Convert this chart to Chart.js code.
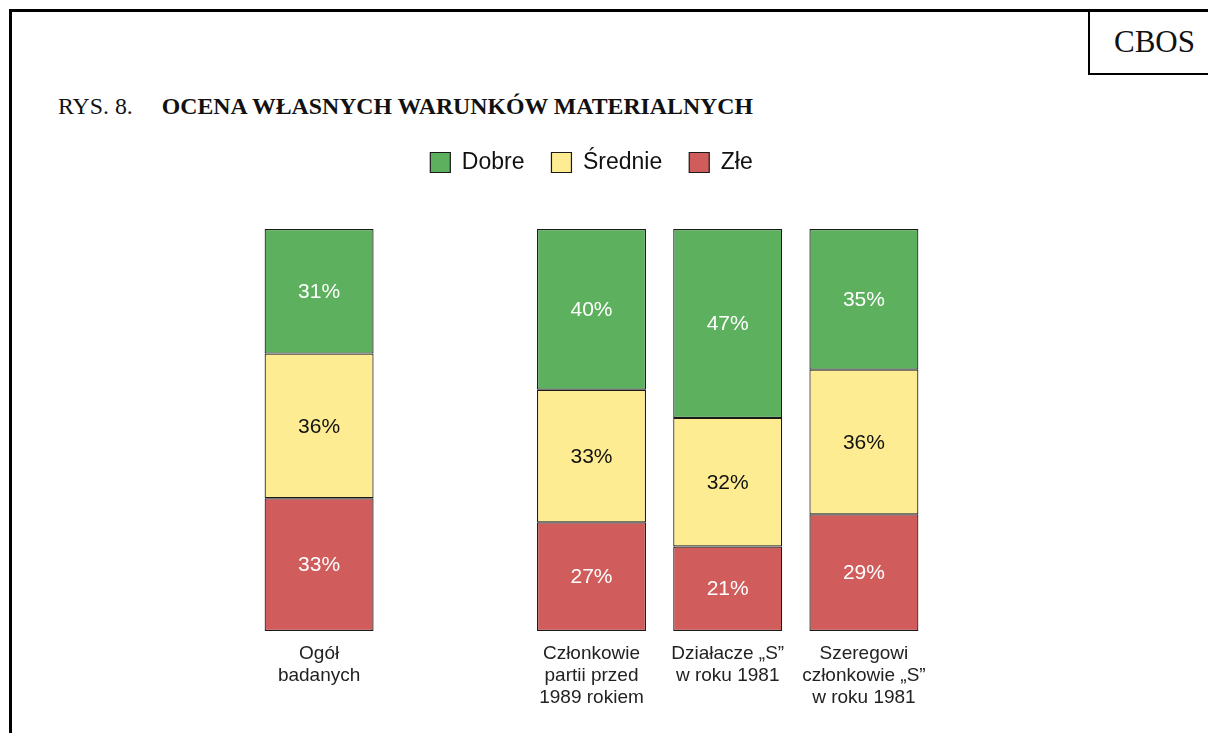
<!DOCTYPE html>
<html lang="pl">
<head>
<meta charset="utf-8">
<title>Ocena własnych warunków materialnych</title>
<script src="https://cdn.jsdelivr.net/npm/chart.js@4/dist/chart.umd.min.js"></script>
<style>
  html, body { margin: 0; padding: 0; background: #fff; }
  #page { position: relative; width: 1208px; height: 733px; overflow: hidden; }
  #frame { position: absolute; left: 9px; top: 9px; width: 1400px; height: 900px;
           border-left: 3px solid #000; border-top: 3px solid #000; }
  #cbos { position: absolute; left: 1088px; top: 9px; width: 160px; height: 66px;
          border: 2px solid #000; border-top-width: 3px; box-sizing: border-box;
          font: 31px "Liberation Serif", "Times New Roman", serif; color: #111;
          padding: 12px 0 0 24px; }
  #title { position: absolute; left: 58px; top: 93px; white-space: nowrap;
           font: 23.8px "Liberation Serif", "Times New Roman", serif; color: #111; }
  #title b { margin-left: 29px; }
  #chart { position: absolute; left: 0; top: 0; }
</style>
</head>
<body>
<div id="page">
  <div id="frame"></div>
  <div id="cbos">CBOS</div>
  <div id="title">RYS. 8.<b>OCENA WŁASNYCH WARUNKÓW MATERIALNYCH</b></div>
  <canvas id="chart" width="1208" height="733"></canvas>
</div>
<script>
// dane (w %)
const categories = [
  ["Ogół", "badanych"],
  "",
  ["Członkowie", "partii przed", "1989 rokiem"],
  ["Działacze „S”", "w roku 1981"],
  ["Szeregowi", "członkowie „S”", "w roku 1981"],
];
const seriesNames = ["Dobre", "Średnie", "Złe"];
const dobre = [31, null, 40, 47, 35];
const srednie = [36, null, 33, 32, 36];
const zle = [33, null, 27, 21, 29];

const COLORS = { green: "#5db15e", yellow: "#fdec92", red: "#d05c5b", edge: "#1a1a1a" };

// etykiety procentowe w środku segmentów
const valueLabels = {
  id: "valueLabels",
  afterDatasetsDraw(chart) {
    const ctx = chart.ctx;
    ctx.save();
    ctx.font = '21px "Liberation Sans", Arial, sans-serif';
    ctx.textAlign = "center";
    ctx.textBaseline = "middle";
    chart.data.datasets.forEach((ds, i) => {
      chart.getDatasetMeta(i).data.forEach((bar, j) => {
        const v = ds.data[j];
        if (v == null) return;
        const { x, y, base } = bar.getProps(["x", "y", "base"], true);
        ctx.fillStyle = ds.labelColor;
        ctx.fillText(v + "%", x, (y + base) / 2 + 1);
      });
    });
    ctx.restore();
  },
};

// legenda potrzebuje trochę więcej miejsca pod sobą
const legendSpace = {
  id: "legendSpace",
  beforeInit(chart) {
    const fit = chart.legend.fit;
    chart.legend.fit = function () {
      fit.bind(chart.legend)();
      this.height += 45;
    };
  },
};

const mk = (label, data, color, labelColor) => ({
  label, data,
  backgroundColor: color,
  borderColor: COLORS.edge,
  borderWidth: 1.2,
  borderSkipped: false,
  labelColor,
});

new Chart(document.getElementById("chart"), {
  type: "bar",
  data: {
    labels: categories,
    // kolejność stosu: od dołu Złe, Średnie, Dobre
    datasets: [
      mk(seriesNames[2], zle, COLORS.red, "#fff"),
      mk(seriesNames[1], srednie, COLORS.yellow, "#111"),
      mk(seriesNames[0], dobre, COLORS.green, "#fff"),
    ],
  },
  options: {
    responsive: false,
    animation: false,
    categoryPercentage: 1,
    barPercentage: 0.8,
    layout: { padding: { left: 251, right: 276, top: 124, bottom: 12 } },
    plugins: {
      legend: {
        position: "top",
        reverse: true,
        labels: {
          boxWidth: 20,
          boxHeight: 20,
          padding: 27,
          color: "#111",
          font: { family: '"Liberation Sans", Arial, sans-serif', size: 23 },
        },
      },
      tooltip: { enabled: false },
    },
    scales: {
      x: {
        stacked: true,
        grid: { display: false, drawTicks: false },
        border: { display: false },
        ticks: {
          padding: 12,
          autoSkip: false,
          maxRotation: 0,
          color: "#222",
          font: { family: '"Liberation Sans", Arial, sans-serif', size: 19, lineHeight: 1.16 },
        },
      },
      y: { stacked: true, display: false, min: 0, max: 100 },
    },
  },
  plugins: [valueLabels, legendSpace],
});
</script>
</body>
</html>
